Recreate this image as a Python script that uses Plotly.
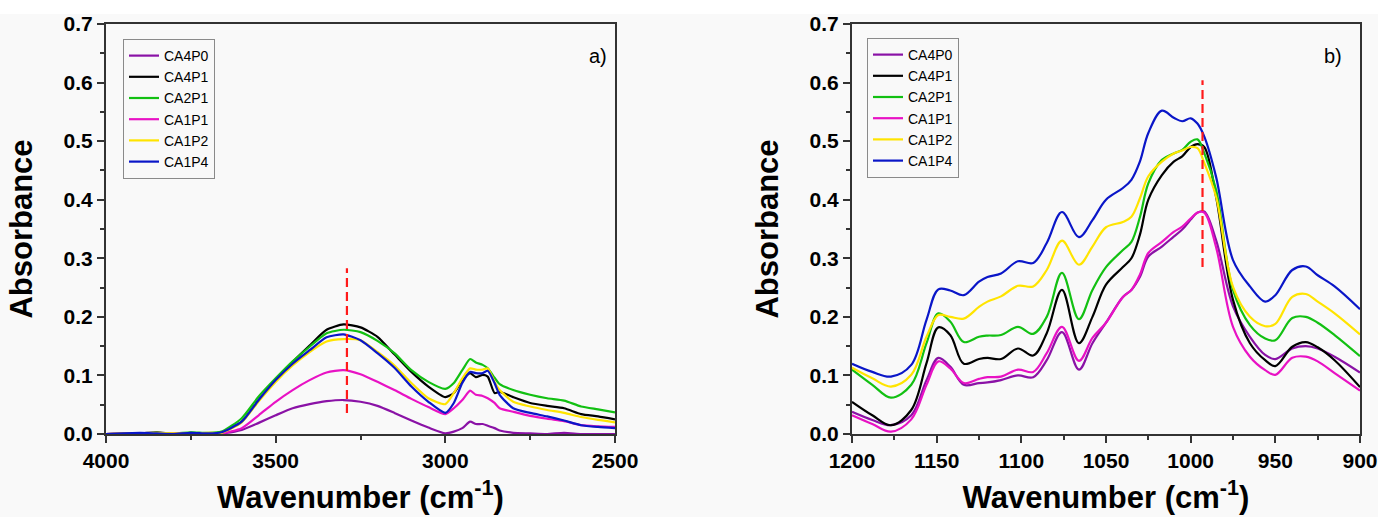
import plotly.graph_objects as go

# ---------------- data ----------------
series_names = ["CA4P0", "CA4P1", "CA2P1", "CA1P1", "CA1P2", "CA1P4"]
series_colors = ["#8a12a6", "#000000", "#12c012", "#e812c4", "#ffe400", "#0a16c8"]

# a) high-wavenumber region
wn_a = [4000, 3900, 3850, 3800, 3750, 3700, 3660, 3600, 3550, 3500, 3450, 3400,
        3350, 3300, 3250, 3200, 3150, 3100, 3050, 3000, 2975, 2950, 2927, 2910,
        2890, 2875, 2855, 2840, 2800, 2750, 2700, 2650, 2600, 2550, 2500]

ca4p0_a = [0.0, 0.001, 0.0, 0.0, 0.001, 0.0, 0.001, 0.007, 0.019, 0.032, 0.044, 0.051,
           0.056, 0.058, 0.055, 0.048, 0.036, 0.023, 0.011, 0.001, 0.004, 0.010, 0.021, 0.017,
           0.017, 0.014, 0.010, 0.006, 0.002, 0.001, 0.0, 0.002, 0.0, 0.0, 0.0]
ca4p1_a = [0.0, 0.001, 0.003, 0.0, 0.002, 0.001, 0.003, 0.021, 0.058, 0.092, 0.123, 0.151,
           0.178, 0.187, 0.182, 0.166, 0.136, 0.106, 0.081, 0.063, 0.070, 0.092, 0.104, 0.097,
           0.101, 0.098, 0.070, 0.072, 0.063, 0.053, 0.048, 0.044, 0.034, 0.030, 0.025]
ca2p1_a = [0.0, 0.001, 0.002, 0.001, 0.003, 0.002, 0.004, 0.027, 0.064, 0.095, 0.124, 0.149,
           0.172, 0.178, 0.174, 0.159, 0.138, 0.109, 0.089, 0.077, 0.087, 0.109, 0.128, 0.122,
           0.118, 0.112, 0.096, 0.085, 0.075, 0.067, 0.061, 0.057, 0.047, 0.042, 0.037]
ca1p1_a = [0.0, 0.001, 0.0, 0.001, 0.0, 0.001, 0.001, 0.010, 0.032, 0.055, 0.075, 0.092,
           0.105, 0.109, 0.102, 0.089, 0.075, 0.060, 0.046, 0.034, 0.044, 0.058, 0.074, 0.067,
           0.065, 0.061, 0.053, 0.044, 0.038, 0.031, 0.026, 0.022, 0.015, 0.013, 0.012]
ca1p2_a = [0.0, 0.001, 0.002, 0.001, 0.001, 0.002, 0.002, 0.020, 0.056, 0.089, 0.117, 0.140,
           0.158, 0.162, 0.160, 0.140, 0.117, 0.087, 0.061, 0.051, 0.070, 0.095, 0.112, 0.110,
           0.110, 0.112, 0.089, 0.075, 0.055, 0.047, 0.041, 0.036, 0.029, 0.024, 0.020]
ca1p4_a = [0.0, 0.002, 0.001, 0.0, 0.002, 0.001, 0.003, 0.021, 0.058, 0.092, 0.120, 0.143,
           0.165, 0.170, 0.160, 0.138, 0.113, 0.081, 0.055, 0.036, 0.053, 0.087, 0.106, 0.104,
           0.104, 0.108, 0.087, 0.067, 0.044, 0.036, 0.030, 0.023, 0.015, 0.012, 0.010]

# b) fingerprint region
wn_b = [1200, 1188, 1177, 1165, 1156, 1149, 1142, 1134, 1125, 1120, 1112, 1102, 1093,
        1085, 1076, 1066, 1058, 1050, 1040, 1035, 1030, 1025, 1017, 1010, 1005, 1000,
        996, 992, 985, 975, 965, 956, 950, 940, 932, 925, 915, 900]

ca4p0_b = [0.038, 0.024, 0.015, 0.032, 0.092, 0.130, 0.115, 0.084, 0.087, 0.088, 0.092, 0.100, 0.097,
           0.126, 0.174, 0.110, 0.155, 0.190, 0.234, 0.246, 0.268, 0.303, 0.320, 0.337, 0.349, 0.366,
           0.378, 0.380, 0.331, 0.218, 0.166, 0.135, 0.128, 0.146, 0.150, 0.146, 0.132, 0.105]
ca4p1_b = [0.055, 0.032, 0.015, 0.041, 0.121, 0.182, 0.169, 0.120, 0.128, 0.130, 0.128, 0.146, 0.134,
           0.172, 0.246, 0.155, 0.200, 0.255, 0.285, 0.300, 0.340, 0.400, 0.442, 0.465, 0.474, 0.490,
           0.495, 0.490, 0.405, 0.229, 0.155, 0.126, 0.116, 0.149, 0.157, 0.148, 0.126, 0.080]
ca2p1_b = [0.110, 0.084, 0.062, 0.084, 0.155, 0.206, 0.192, 0.157, 0.166, 0.168, 0.169, 0.183, 0.171,
           0.200, 0.275, 0.196, 0.246, 0.285, 0.314, 0.328, 0.370, 0.428, 0.468, 0.479, 0.485, 0.499,
           0.503, 0.480, 0.417, 0.246, 0.186, 0.163, 0.160, 0.198, 0.200, 0.190, 0.169, 0.133]
ca1p1_b = [0.032, 0.017, 0.004, 0.025, 0.084, 0.124, 0.112, 0.087, 0.094, 0.097, 0.098, 0.110, 0.106,
           0.138, 0.183, 0.125, 0.164, 0.190, 0.234, 0.246, 0.272, 0.309, 0.328, 0.345, 0.354, 0.368,
           0.378, 0.378, 0.319, 0.183, 0.132, 0.109, 0.101, 0.130, 0.132, 0.124, 0.104, 0.074]
ca1p2_b = [0.113, 0.095, 0.081, 0.101, 0.166, 0.203, 0.200, 0.197, 0.217, 0.226, 0.235, 0.253, 0.252,
           0.280, 0.330, 0.289, 0.320, 0.353, 0.362, 0.371, 0.402, 0.440, 0.465, 0.479, 0.484, 0.490,
           0.488, 0.463, 0.405, 0.251, 0.200, 0.184, 0.188, 0.234, 0.239, 0.226, 0.206, 0.170]
ca1p4_b = [0.120, 0.106, 0.098, 0.118, 0.195, 0.247, 0.245, 0.237, 0.260, 0.268, 0.274, 0.295, 0.292,
           0.326, 0.379, 0.336, 0.365, 0.400, 0.420, 0.434, 0.465, 0.514, 0.552, 0.540, 0.534, 0.539,
           0.530, 0.508, 0.439, 0.297, 0.252, 0.226, 0.237, 0.280, 0.286, 0.271, 0.252, 0.213]

# reference band positions (dashed markers)
band_a_wn = [3290, 3290]
band_a_abs = [0.036, 0.283]
band_b_wn = [993, 993]
band_b_abs = [0.285, 0.604]

y_ticks = [0.0, 0.1, 0.2, 0.3, 0.4, 0.5, 0.6, 0.7]
x_ticks_a = [4000, 3500, 3000, 2500]
x_ticks_b = [1200, 1150, 1100, 1050, 1000, 950, 900]

# ---------------- figure ----------------
W, H = 1378, 517
FONT = "Liberation Sans, Arial, sans-serif"
AXIS_COLOR = "#333333"

fig = go.Figure()

spectra_a = [ca4p0_a, ca4p1_a, ca2p1_a, ca1p1_a, ca1p2_a, ca1p4_a]
spectra_b = [ca4p0_b, ca4p1_b, ca2p1_b, ca1p1_b, ca1p2_b, ca1p4_b]

for name, color, ya in zip(series_names, series_colors, spectra_a):
    fig.add_trace(go.Scatter(
        x=wn_a, y=ya, name=name, mode="lines",
        line=dict(color=color, width=2.2, shape="spline", smoothing=0.6),
        xaxis="x", yaxis="y", legend="legend",
    ))
for name, color, yb in zip(series_names, series_colors, spectra_b):
    fig.add_trace(go.Scatter(
        x=wn_b, y=yb, name=name, mode="lines",
        line=dict(color=color, width=2.2, shape="spline", smoothing=1.0),
        xaxis="x2", yaxis="y2", legend="legend2",
    ))

fig.add_trace(go.Scatter(x=band_a_wn, y=band_a_abs, mode="lines", showlegend=False,
                         line=dict(color="#ff1a1a", width=2.2, dash="9px,5px"),
                         xaxis="x", yaxis="y"))
fig.add_trace(go.Scatter(x=band_b_wn, y=band_b_abs, mode="lines", showlegend=False,
                         line=dict(color="#ff1a1a", width=2.2, dash="9px,5px"),
                         xaxis="x2", yaxis="y2"))

y_dom = [(H - 434) / H, (H - 24) / H]
dom_a = [106 / W, 615 / W]
dom_b = [852 / W, 1360 / W]

tick_font = dict(family=FONT, size=21, color="#000000", weight="bold")
title_font = dict(family=FONT, size=31, color="#000000", weight="bold")


def x_axis(domain, rng, ticks, minor_step, anchor):
    return dict(
        domain=domain, range=rng, anchor=anchor, automargin=False,
        tickmode="array", tickvals=ticks, ticktext=[str(t) for t in ticks],
        ticks="outside", ticklen=7, tickwidth=2, tickcolor=AXIS_COLOR,
        minor=dict(ticks="outside", dtick=minor_step, ticklen=4, tickwidth=1.5,
                   tickcolor=AXIS_COLOR, showgrid=False),
        showline=True, linecolor=AXIS_COLOR, linewidth=2, mirror=True,
        showgrid=False, zeroline=False, tickfont=tick_font,
        title=dict(text="Wavenumber (cm<sup>-1</sup>)", font=title_font, standoff=15),
    )


def y_axis(anchor):
    return dict(
        domain=y_dom, range=[0, 0.7], anchor=anchor, automargin=False,
        tickmode="array", tickvals=y_ticks, ticktext=[f"{v:.1f}" for v in y_ticks],
        ticks="outside", ticklen=7, tickwidth=2, tickcolor=AXIS_COLOR,
        minor=dict(ticks="outside", dtick=0.05, ticklen=4, tickwidth=1.5,
                   tickcolor=AXIS_COLOR, showgrid=False),
        showline=True, linecolor=AXIS_COLOR, linewidth=2, mirror=True,
        showgrid=False, zeroline=False, tickfont=tick_font,
        title=dict(text="Absorbance", font=title_font, standoff=22),
    )


legend_style = dict(
    xanchor="left", yanchor="top",
    bgcolor="rgba(0,0,0,0)", bordercolor="#8a8a8a", borderwidth=1,
    font=dict(family=FONT, size=14, color="#000000"),
    itemwidth=30, tracegroupgap=0, traceorder="normal",
)

fig.update_layout(
    width=W, height=H,
    margin=dict(l=0, r=0, t=0, b=0, autoexpand=False),
    paper_bgcolor="#f9f9f9", plot_bgcolor="#f9f9f9",
    xaxis=x_axis(dom_a, [4000, 2500], x_ticks_a, 250, "y"),
    yaxis=y_axis("x"),
    xaxis2=x_axis(dom_b, [1200, 900], x_ticks_b, 25, "y2"),
    yaxis2=y_axis("x2"),
    legend=dict(x=123 / W, y=1 - 39 / H, **legend_style),
    legend2=dict(x=867 / W, y=1 - 38 / H, **legend_style),
    annotations=[
        dict(text="a)", x=598 / W, y=1 - 43 / H, xref="paper", yref="paper",
             showarrow=False, font=dict(family=FONT, size=20, color="#000000")),
        dict(text="b)", x=1344 / W, y=1 - 43 / H, xref="paper", yref="paper",
             showarrow=False, font=dict(family=FONT, size=20, color="#000000")),
    ],
    shapes=[
        dict(type="rect", xref="paper", yref="paper", x0=0, x1=1, y0=1 - 14 / H, y1=1,
             fillcolor="#ffffff", line=dict(width=0), layer="below"),
    ],
    showlegend=True,
)

fig.write_html("out.html")
